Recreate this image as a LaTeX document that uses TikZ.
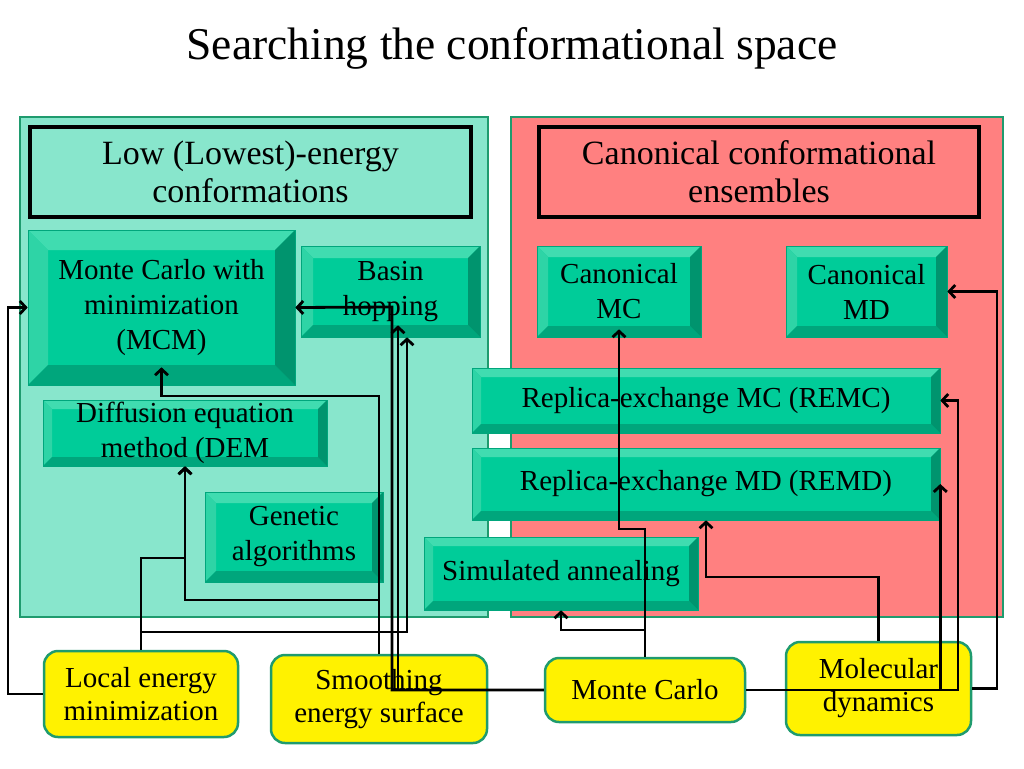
\documentclass[tikz,border=0pt]{standalone}
\usepackage{fontspec}
\setmainfont{Liberation Serif}
\usetikzlibrary{shapes,arrows.meta,calc,positioning}

\definecolor{lowfill}{HTML}{88E6CC}
\definecolor{canfill}{HTML}{FF8080}
\definecolor{rim}{HTML}{1F9B6E}
\definecolor{face}{HTML}{00CC99}
\definecolor{bevtop}{HTML}{40DCB0}
\definecolor{bevleft}{HTML}{2ED4A6}
\definecolor{bevbot}{HTML}{00A67C}
\definecolor{bevright}{HTML}{00946E}

\begin{document}
\begin{tikzpicture}[x=1pt,y=-1pt,
  panel/.style={draw=rim, line width=2pt, inner sep=0pt},
  head/.style={draw=black, line width=4pt, align=center, inner sep=0pt, font=\fontsize{34}{38}\selectfont},
  bevel/.style={fill=face, draw=bevbot, line width=0.6pt, inner sep=0pt, align=center,
    font=\fontsize{29}{35}\selectfont,
    path picture={
      \path (path picture bounding box.north west) coordinate (pnw)
            (path picture bounding box.north east) coordinate (pne)
            (path picture bounding box.south west) coordinate (psw)
            (path picture bounding box.south east) coordinate (pse);
      \fill[bevtop] (pnw) -- (pne) -- ([xshift=-#1,yshift=-#1]pne) -- ([xshift=#1,yshift=-#1]pnw) -- cycle;
      \fill[bevleft] (pnw) -- ([xshift=#1,yshift=-#1]pnw) -- ([xshift=#1,yshift=#1]psw) -- (psw) -- cycle;
      \fill[bevbot] (psw) -- (pse) -- ([xshift=-#1,yshift=#1]pse) -- ([xshift=#1,yshift=#1]psw) -- cycle;
      \fill[bevright] (pne) -- (pse) -- ([xshift=-#1,yshift=#1]pse) -- ([xshift=-#1,yshift=-#1]pne) -- cycle;
    }},
  leaf/.style={draw=rim, fill=yellow, line width=2.5pt, rounded corners=14pt, align=center,
    inner sep=0pt, font=\fontsize{29}{33}\selectfont},
  link/.style={line width=2.8pt, -{Straight Barb[length=6pt,width=13pt]}}]

\useasboundingbox (0,0) rectangle (1024,768);

\node[font=\fontsize{45.5}{52}\selectfont] (title) at (512,48) {Searching the conformational space};

% the two panels
\node[panel, fill=lowfill, minimum width=468pt, minimum height=500pt] (lowpanel) at (254,367) {};
\node[panel, fill=canfill, minimum width=492pt, minimum height=500pt] (canpanel) at (757,367) {};

\node[head, fill=lowfill, minimum width=441pt, minimum height=90pt] (lowhead) at (250.5,171.5) {Low (Lowest)-energy\\conformations};
\node[head, fill=canfill, minimum width=440pt, minimum height=90pt] (canhead) at (759,171.5) {Canonical conformational\\ensembles};

% low energy methods
\node[bevel=20pt, minimum width=267pt, minimum height=155pt] (mcm) at (161.5,307.5) {Monte Carlo with\\minimization\\(MCM)};
\node[bevel=12pt, minimum width=179pt, minimum height=91pt] (basin) at (390.5,291.5) {Basin\\hopping};
\node[bevel=9pt, minimum width=284pt, minimum height=66pt] (dem) at (185,433) {Diffusion equation\\method (DEM};
\node[bevel=11pt, minimum width=178pt, minimum height=90pt] (genetic) at (294,537) {Genetic\\algorithms};

% canonical methods
\node[bevel=11pt, minimum width=164pt, minimum height=91pt] (canmc) at (619,291.5) {Canonical\\MC};
\node[bevel=11pt, minimum width=161pt, minimum height=91pt] (canmd) at (866.5,291.5) {Canonical\\MD};
\node[bevel=9pt, minimum width=468pt, minimum height=65pt] (remc) at (706,400.5) {Replica-exchange MC (REMC)};
\node[bevel=9pt, minimum width=468pt, minimum height=72pt] (remd) at (706,484) {Replica-exchange MD (REMD)};
\node[bevel=9pt, minimum width=274pt, minimum height=73pt] (simann) at (561,573.5) {Simulated annealing};

% basic techniques
\foreach \name/\x/\y/\w/\h/\txt in {localmin/141/694/194/86/{Local energy\\minimization},
    smooth/379/699/216/88/{Smoothing\\energy surface},
    mc/645/690/200/64/{Monte Carlo},
    md/878.5/688.5/185/93/{Molecular\\dynamics}}
  \node[leaf, minimum width=\w pt, minimum height=\h pt] (\name) at (\x,\y) {\txt};

% local energy minimization
\draw[link] (localmin.west) -- (8,694) |- (mcm.west);
\draw[link] (localmin.north) -- (141,558) -| (dem.south);
\draw[link] (localmin.north) -- (141,632) -| ([xshift=16.5pt]basin.south);
% smoothing
\draw[link] (smooth.north) |- (161.5,396) -- ([yshift=18pt]mcm.south);
\draw[link] (smooth.north) |- (185,600) -- (dem.south);
% monte carlo
\draw[link] (mc.west) -| (392,307) -- (mcm.east);
\draw[link] (mc.west) -| ([xshift=7.5pt,yshift=12pt]basin.south);
\draw[link] (mc.north) -- (645,529) -| ([yshift=8pt]canmc.south);
\draw[link] (mc.north) |- (561,630) -- (simann.south);
\draw[link] (mc.east) -| (958,400.5) -- (remc.east);
\draw[link] (mc.east) -| (remd.east);
% molecular dynamics
\draw[link] (md.north) |- (706,577) -- (remd.south);
\draw[link] (md.east) -- (997,688.5) |- (canmd.east);
\end{tikzpicture}
\end{document}
